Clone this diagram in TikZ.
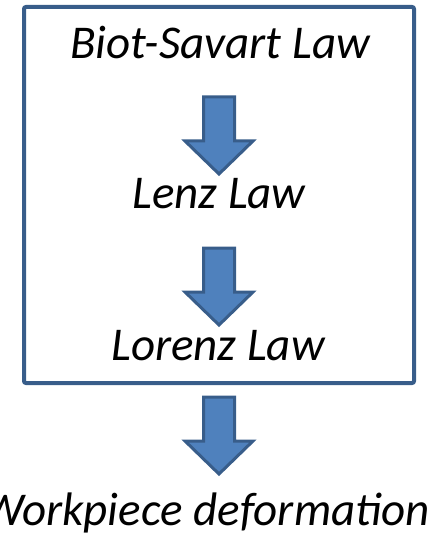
\documentclass[tikz,border=0pt]{standalone}
\usepackage{fontspec}
\setmainfont{Carlito}
\usepackage{xcolor}
\usepackage{tikz}
\usetikzlibrary{arrows.meta, positioning}
\definecolor{blockfill}{HTML}{4F81BD}
\definecolor{blockline}{HTML}{385D8A}
\tikzset{
  law/.style        = {font=\fontsize{47}{54}\selectfont\itshape, inner sep=0pt, anchor=base},
  frame/.style      = {rectangle, draw=blockline, line width=4pt, rounded corners=2pt,
                       minimum width=390pt, minimum height=376pt, inner sep=0pt},
  blockline/.style  = {fill=blockfill, draw=blockline, line width=3pt, line join=miter},
  pics/blockdown/.style = {code={
    \draw[blockline] (-15.5,0) -- (15.5,0) -- (15.5,44) -- (34,44) -- (0,77)
                     -- (-34,44) -- (-15.5,44) -- cycle;}},
}

\begin{document}
\begin{tikzpicture}[x=1pt, y=-1pt]
  \clip (0,0) rectangle (426,534);
  % ---- frame round the three laws
  \node[frame] (box) at (219,195) {};
  % ---- laws
  \node[law] (biot) at (220,59) {Biot-Savart Law};
  \node[law] (lenz) at (219,209) {Lenz Law};
  \node[law] (lorenz) at (218,360) {Lorenz Law};
  \node[law] (work) at (206,525) {Workpiece deformation};
  % ---- block arrows
  \pic (a1) at (219,97) {blockdown};
  \pic (a2) at (219,248) {blockdown};
  \pic (a3) at (219,397) {blockdown};
\end{tikzpicture}
\end{document}
